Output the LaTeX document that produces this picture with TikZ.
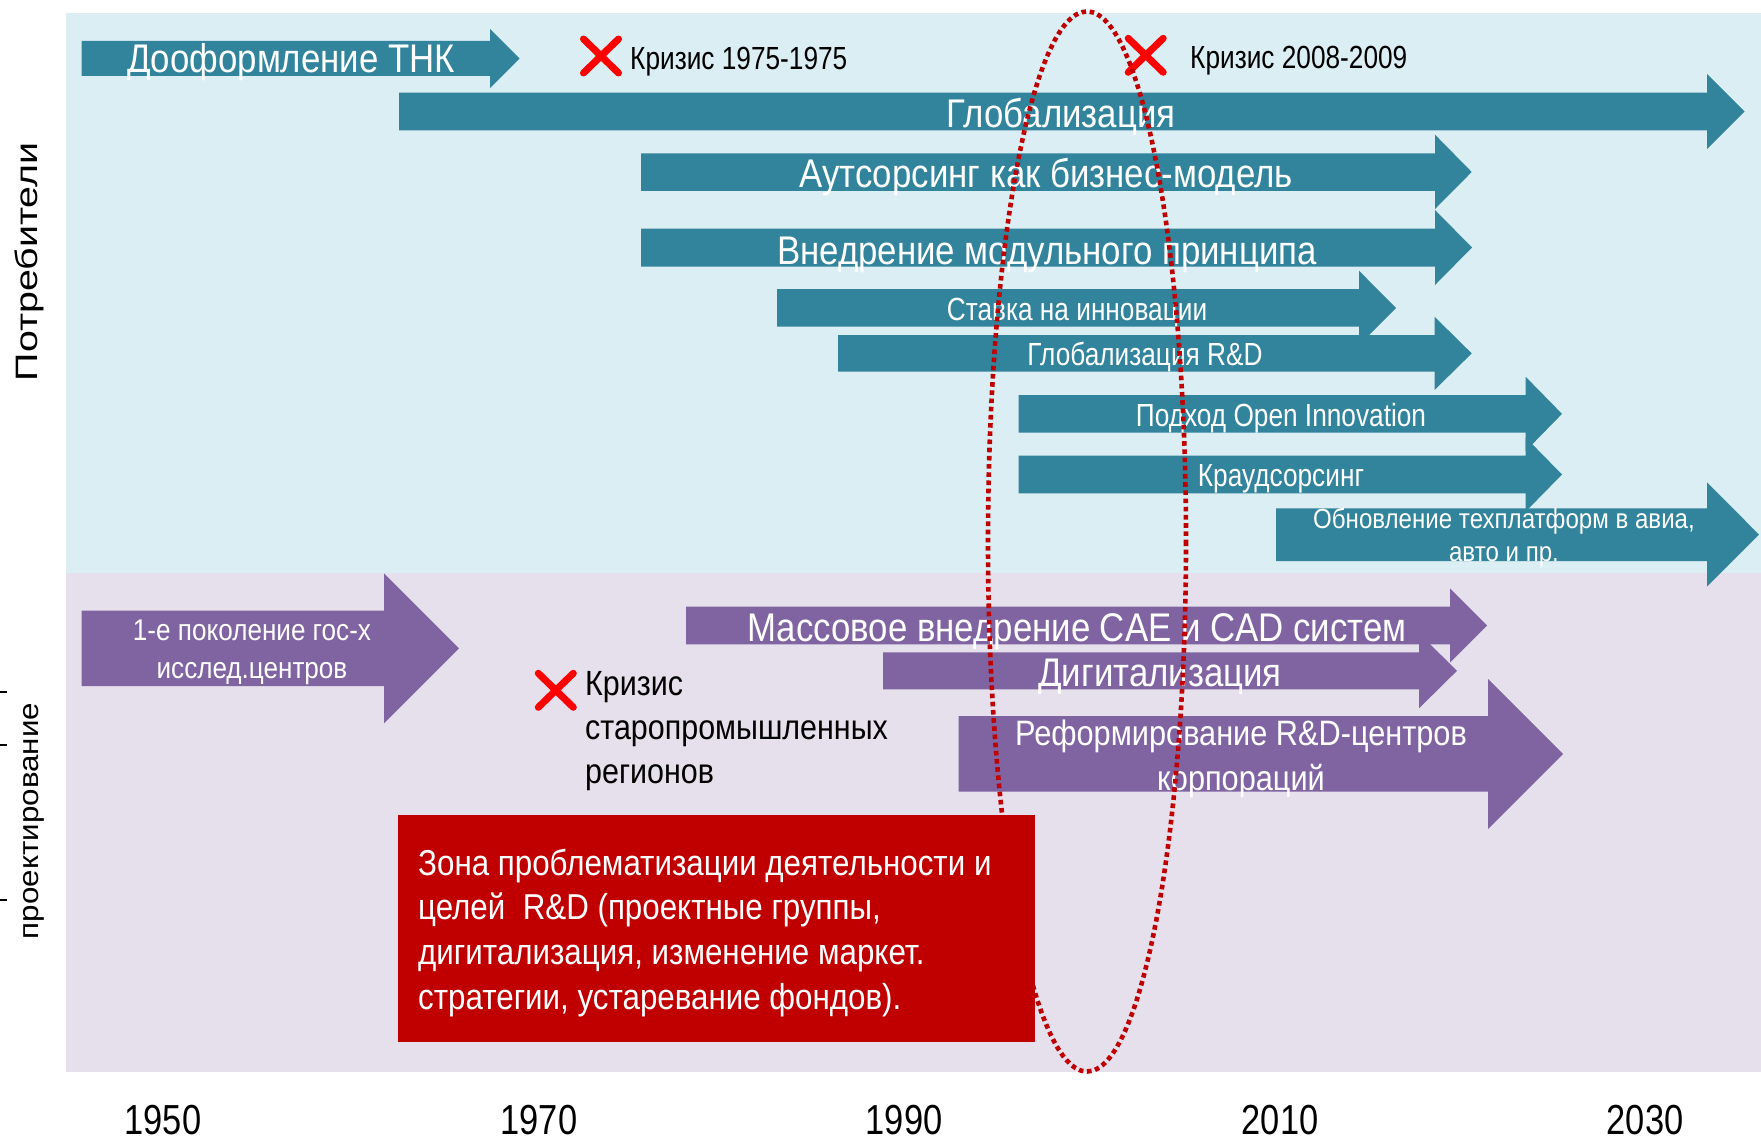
\documentclass[tikz,border=0pt]{standalone}
\usepackage{fontspec}
\setmainfont{Liberation Sans}
\newfontfamily\narrowfont[FakeStretch=0.87]{Liberation Sans}
\newfontfamily\condfont[FakeStretch=0.82]{Liberation Sans}
\newfontfamily\widefont[FakeStretch=1.27]{Liberation Sans}
\newfontfamily\designfont[FakeStretch=1.12]{Liberation Sans}
\usetikzlibrary{shapes.misc}

\definecolor{tealbar}{HTML}{31849B}
\definecolor{violetbar}{HTML}{8064A2}
\definecolor{paleblue}{HTML}{DBEEF4}
\definecolor{palelilac}{HTML}{E5E0EC}
\definecolor{darkred}{HTML}{C00000}

\begin{document}
\begin{tikzpicture}[x=1pt,y=-1pt,
  tealarrow/.style={fill=tealbar},
  violetarrow/.style={fill=violetbar},
  bigtxt/.style={text=white,inner sep=0pt,anchor=base,font=\narrowfont\fontsize{40}{44}\selectfont},
  midtxt/.style={text=white,inner sep=0pt,anchor=base,font=\condfont\fontsize{32}{36}\selectfont},
  smalltxt/.style={text=white,inner sep=0pt,anchor=base,align=flush center,font=\narrowfont\fontsize{27.7}{33.4}\selectfont},
  crisis/.style={cross out,draw=red,line width=7pt,line cap=round,minimum width=28pt,minimum height=27pt,inner sep=0pt},
  crisistxt/.style={inner sep=0pt,anchor=base west,font=\condfont\fontsize{32}{36}\selectfont},
  yeartxt/.style={inner sep=0pt,anchor=base,font=\condfont\fontsize{42}{46}\selectfont}]
  \useasboundingbox (0,0) rectangle (1761,1142);
  % panels
  \fill[paleblue] (66,13.5) rectangle (1761,573);
  \fill[palelilac] (66,573) rectangle (1761,1072);
  \node[rotate=90,anchor=base,inner sep=0pt,font=\widefont\fontsize{31}{34}\selectfont] (consumers) at (37.3,262) {Потребители};
  \node[rotate=90,anchor=base,inner sep=0pt,font=\designfont\fontsize{28}{32}\selectfont] (design) at (38.3,821) {проектирование};
  \draw[line width=2pt] (0,692) -- (6.5,692);
  \draw[line width=2pt] (0,745) -- (6.5,745);
  \draw[line width=2pt] (0,900) -- (6.5,900);

  % teal arrows
  \fill[tealarrow] (81.5,41) -- (490,41) -- (490,29) -- (519.5,58.5) -- (490,88) -- (490,76) -- (81.5,76) -- cycle;
  \fill[tealarrow] (399,92.7) -- (1707,92.7) -- (1707,74) -- (1744.7,111.5) -- (1707,149) -- (1707,130.3) -- (399,130.3) -- cycle;
  \fill[tealarrow] (641,153.3) -- (1435,153.3) -- (1435,134.7) -- (1471.7,172) -- (1435,209) -- (1435,191) -- (641,191) -- cycle;
  \fill[tealarrow] (641,228.7) -- (1435,228.7) -- (1435,210) -- (1472,247.5) -- (1435,285) -- (1435,266.7) -- (641,266.7) -- cycle;
  \fill[tealarrow] (777,289) -- (1359,289) -- (1359,270.7) -- (1396,308) -- (1359,345.3) -- (1359,326.7) -- (777,326.7) -- cycle;
  \fill[tealarrow] (838,335) -- (1434.5,335) -- (1434.5,316.7) -- (1471.7,353.4) -- (1434.5,390) -- (1434.5,371.7) -- (838,371.7) -- cycle;
  \fill[tealarrow] (1018.5,395) -- (1525.7,395) -- (1525.7,376.8) -- (1562,413.9) -- (1525.7,451) -- (1525.7,432.7) -- (1018.5,432.7) -- cycle;
  \fill[tealarrow] (1018.5,455.7) -- (1525.7,455.7) -- (1525.7,437.5) -- (1562,474.5) -- (1525.7,511.5) -- (1525.7,493.3) -- (1018.5,493.3) -- cycle;
  \fill[tealarrow] (1276,508.3) -- (1707,508.3) -- (1707,482.3) -- (1759,534.6) -- (1707,586.7) -- (1707,561) -- (1276,561) -- cycle;
  \node[bigtxt] (tnk) at (291,72.7) {Дооформление ТНК};
  \node[bigtxt] (glob) at (1061,127.3) {Глобализация};
  \node[bigtxt] (outsrc) at (1046,187.3) {Аутсорсинг как бизнес-модель};
  \node[bigtxt] (modul) at (1047,264) {Внедрение модульного принципа};
  \node[midtxt] (innov) at (1077,320) {Ставка на инновации};
  \node[midtxt] (globrd) at (1145,365.7) {Глобализация R\&D};
  \node[midtxt] (openinn) at (1281,426) {Подход Open Innovation};
  \node[midtxt] (crowd) at (1281,486) {Краудсорсинг};
  \node[smalltxt] (techpl) at (1504,561.7) {Обновление техплатформ в авиа,\\авто и пр.};

  % violet arrows
  \fill[violetarrow] (81.5,610.7) -- (384,610.7) -- (384,573.3) -- (459,648.3) -- (384,723.3) -- (384,686) -- (81.5,686) -- cycle;
  \fill[violetarrow] (686,606.7) -- (1450,606.7) -- (1450,588.3) -- (1487,625.5) -- (1450,662.7) -- (1450,644.3) -- (686,644.3) -- cycle;
  \fill[violetarrow] (883,652.3) -- (1419,652.3) -- (1419,633.3) -- (1457,670.8) -- (1419,708.3) -- (1419,689.3) -- (883,689.3) -- cycle;
  \fill[violetarrow] (958.6,716) -- (1488,716) -- (1488,679) -- (1563,754) -- (1488,829) -- (1488,791.7) -- (958.6,791.7) -- cycle;
  \node[smalltxt,font=\narrowfont\fontsize{30}{38}\selectfont] (stategen) at (252,678) {1-е поколение гос-х\\исслед.центров};
  \node[bigtxt] (cae) at (1077,641.7) {Массовое внедрение CAE и CAD систем};
  \node[bigtxt] (digit) at (1160,686.7) {Дигитализация};
  \node[smalltxt,font=\narrowfont\fontsize{35.3}{45}\selectfont] (reform) at (1241,790) {Реформирование R\&D-центров\\корпораций};

  % crises
  \node[crisis] (cr1975) at (601,56) {};
  \node[crisistxt] (cr1975txt) at (630,69.3) {Кризис 1975-1975};
  \node[crisis] (cr2008) at (1145.7,55.3) {};
  \node[crisistxt] (cr2008txt) at (1190,68.3) {Кризис 2008-2009};
  \node[crisis] (crreg) at (555.8,690.3) {};
  \node[crisistxt,align=flush left,font=\narrowfont\fontsize{35}{44}\selectfont] (crregtxt) at (585,783.3) {Кризис\\старопромышленных\\регионов};

  % focus zone
  \draw[darkred,line width=4.6pt,dash pattern=on 4.6pt off 3.6pt] (1087,541.5) ellipse [x radius=99, y radius=530];
  \node[fill=darkred,anchor=north west,minimum width=636.8pt,minimum height=226.7pt,inner sep=0pt] (zone) at (397.6,815) {};
  \node[text=white,anchor=base west,inner sep=0pt,text width=600pt,align=flush left,
        font=\narrowfont\fontsize{36}{44.7}\selectfont] (zonetxt) at (418,875.2)
        {Зона проблематизации деятельности и\\целей\ \ R\&D (проектные группы,\\дигитализация, изменение маркет.\\стратегии, устаревание фондов).};

  % years
  \node[yeartxt] (y1950) at (163,1134.5) {1950};
  \node[yeartxt] (y1970) at (539,1134.5) {1970};
  \node[yeartxt] (y1990) at (904,1134.5) {1990};
  \node[yeartxt] (y2010) at (1280,1134.5) {2010};
  \node[yeartxt] (y2030) at (1645,1134.5) {2030};
\end{tikzpicture}
\end{document}
